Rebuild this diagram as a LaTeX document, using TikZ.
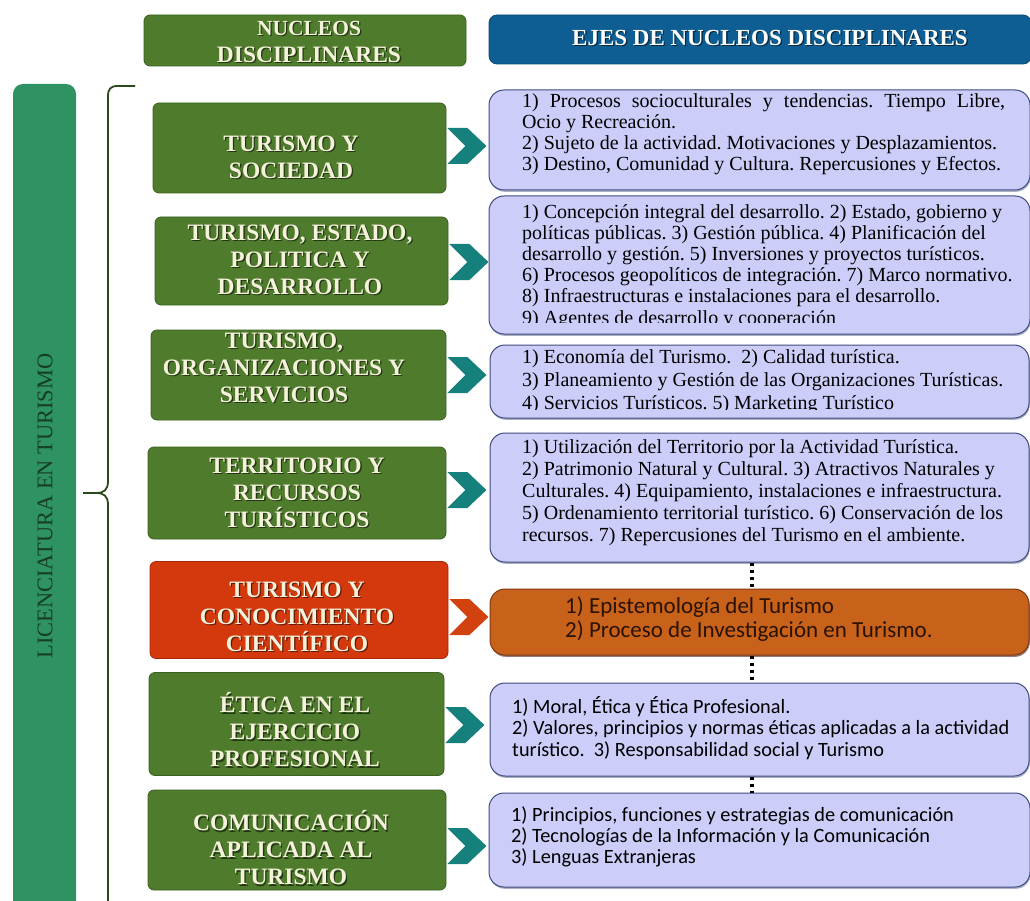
\documentclass[tikz,border=0pt]{standalone}
\usepackage{fontspec}
\setmainfont{Liberation Serif}
\newfontfamily\calfont{Carlito}
\usetikzlibrary{calc,shadows}
\definecolor{nucgreen}{HTML}{4E7B2C}
\definecolor{nucgreenD}{HTML}{3B6020}
\definecolor{hdrblue}{HTML}{0E5E94}
\definecolor{hdrblueD}{HTML}{0A4A76}
\definecolor{barGreen}{HTML}{2E9263}
\definecolor{barText}{HTML}{173D24}
\definecolor{lav}{HTML}{CDCDF9}
\definecolor{lavD}{HTML}{3F4C7E}
\definecolor{orng}{HTML}{C8621A}
\definecolor{orngD}{HTML}{7F3A12}
\definecolor{redbox}{HTML}{D3390D}
\definecolor{redboxD}{HTML}{A82A08}
\definecolor{chevT}{HTML}{15807C}
\definecolor{chevR}{HTML}{D1420F}
\definecolor{cream}{HTML}{F5F2DC}
\definecolor{braceC}{HTML}{2B4A1C}
\definecolor{orText}{HTML}{2A1205}
\tikzset{
 lbox/.style={draw=nucgreenD, fill=nucgreen, line width=0.8pt, rounded corners=6pt, inner sep=0pt},
 lbl/.style={text=cream, font=\bfseries\fontsize{23.5}{27}\selectfont, align=center, inner sep=0pt},
 lblsh/.style={lbl, text=black, opacity=0.55},
 rbox/.style={draw=lavD, fill=lav, line width=1pt, rounded corners=15pt, inner sep=0pt,
   drop shadow={shadow xshift=0.8pt,shadow yshift=-1.8pt,opacity=0.45,fill=lavD}},
 rtxt/.style={anchor=north west, inner sep=0pt, align=left, text=black, font=\fontsize{20}{21}\selectfont},
 stxt/.style={anchor=north west, inner sep=0pt, align=left, text=black, font=\calfont\fontsize{20.3}{21.5}\selectfont},
 dotline/.style={line width=3.5pt, dash pattern=on 3.5pt off 3.5pt},
}
\newcommand\shlabel[3]{%
 \node[lblsh, xshift=1.3pt, yshift=-1.3pt] (#2s) at (#1) {#3};
 \node[lbl] (#2) at (#1) {#3};}
\newcommand\chevron[3]{%
 \fill[#3] ($(#1.east)+(1,#2-18)$) -- ++(20,0) -- ++(19,18) -- ++(-19,18) -- ++(-20,0) -- ++(18,-18) -- cycle;}
\begin{document}
\frenchspacing
\begin{tikzpicture}[x=1pt,y=-1pt]
\clip (0,0) rectangle (1030,901);
\fill[white] (0,0) rectangle (1030,901);

% headers
\node[lbox, minimum width=322pt, minimum height=51pt] (h1) at (305,40.5) {};
\shlabel{309,42}{h1t}{\fontsize{21.5}{25}\selectfont NUCLEOS\\DISCIPLINARES}
\node[draw=hdrblueD, fill=hdrblue, line width=0.8pt, rounded corners=8pt, minimum width=542pt, minimum height=49pt] (h2) at (760,39.5) {};
\node[lbl, text=black, opacity=0.55, font=\bfseries\fontsize{23}{25}\selectfont, xshift=1.3pt, yshift=-1.3pt] (h2s) at (770,38) {EJES DE NUCLEOS DISCIPLINARES};
\node[lbl, text=white, font=\bfseries\fontsize{23}{25}\selectfont] (h2t) at (770,38) {EJES DE NUCLEOS DISCIPLINARES};

% vertical bar
\node[fill=barGreen, rounded corners=10pt, minimum width=63pt, minimum height=840pt, inner sep=0pt] (bar) at (44.5,504) {};
\node[rotate=90, inner sep=0pt, text=barText, font=\fontsize{22.4}{22}\selectfont] (bart) at (45,506) {LICENCIATURA EN TURISMO};

% brace
\draw[braceC, line width=1.8pt, line join=round] (135,86) -- (118,86) .. controls (110,86) and (108,89) .. (108,97)
  -- (108,481) .. controls (108,490) and (104,493) .. (96,493) -- (83,493);
\draw[braceC, line width=1.8pt] (96,493) .. controls (104,493) and (108,496) .. (108,505) -- (108,905);

% left boxes
\node[lbox, minimum width=293pt, minimum height=90pt] (L1) at (299.5,148) {};
\node[lbox, minimum width=293pt, minimum height=88pt] (L2) at (301.5,261) {};
\node[lbox, minimum width=295pt, minimum height=90pt] (L3) at (298.5,375) {};
\node[lbox, minimum width=298pt, minimum height=92pt] (L4) at (297,493) {};
\node[lbox, draw=redboxD, fill=redbox, minimum width=298pt, minimum height=97pt] (L5) at (299,610) {};
\node[lbox, minimum width=295pt, minimum height=103pt] (L6) at (296.5,724) {};
\node[lbox, minimum width=298pt, minimum height=100pt] (L7) at (297,840) {};

\shlabel{291,157}{L1t}{TURISMO Y\\SOCIEDAD}
\shlabel{300,260}{L2t}{TURISMO, ESTADO,\\POLITICA Y\\DESARROLLO}
\shlabel{284,368}{L3t}{TURISMO,\\ORGANIZACIONES Y\\SERVICIOS}
\shlabel{297,493}{L4t}{TERRITORIO Y\\RECURSOS\\TURÍSTICOS}
\shlabel{297,617}{L5t}{TURISMO Y\\CONOCIMIENTO\\CIENTÍFICO}
\shlabel{295,730}{L6t}{ÉTICA EN EL\\EJERCICIO\\PROFESIONAL}
\shlabel{291,848}{L7t}{COMUNICACIÓN\\APLICADA AL\\TURISMO}

% right boxes
\node[rbox, minimum width=541pt, minimum height=100pt] (R1) at (759.5,140) {};
\node[rbox, minimum width=541pt, minimum height=138pt] (R2) at (759.5,265) {};
\node[rbox, minimum width=539pt, minimum height=73pt] (R3) at (759.5,381.5) {};
\node[rbox, minimum width=539pt, minimum height=129pt] (R4) at (759.5,497.5) {};
\node[rbox, draw=orngD, fill=orng, drop shadow={shadow xshift=0.8pt,shadow yshift=-1.8pt,opacity=0.45,fill=orngD}, minimum width=539pt, minimum height=66pt] (R5) at (759.5,622) {};
\node[rbox, minimum width=539pt, minimum height=93pt] (R6) at (759.5,729.5) {};
\node[rbox, minimum width=541pt, minimum height=94pt] (R7) at (759.5,840) {};

% chevrons
\chevron{L1}{-2}{chevT}
\chevron{L2}{1}{chevT}
\chevron{L3}{0}{chevT}
\chevron{L4}{-3}{chevT}
\chevron{L5}{7}{chevR}
\chevron{L6}{1}{chevT}
\chevron{L7}{6}{chevT}

% dotted links
\draw[dotline] ([xshift=-7.5pt]R4.south) -- ([xshift=-7.5pt]R5.north);
\draw[dotline] ([xshift=-7.5pt]R5.south) -- ([xshift=-7.5pt]R6.north);
\draw[dotline] ([xshift=-7.5pt]R6.south) -- ([xshift=-7.5pt]R7.north);

% right texts
\node[rtxt, font=\fontsize{20}{21}\selectfont] (R1t) at (522,93) {\makebox[483pt][s]{1) Procesos socioculturales y tendencias. Tiempo Libre,}\\Ocio y Recreación.\\2) Sujeto de la actividad. Motivaciones y Desplazamientos.\\3) Destino, Comunidad y Cultura. Repercusiones y Efectos.};
\begin{scope}
\clip (489,197) rectangle (1030,322.5);
\node[rtxt, font=\fontsize{20}{21.2}\selectfont] (R2t) at (522,204) {1) Concepción integral del desarrollo. 2) Estado, gobierno y\\políticas públicas. 3) Gestión pública. 4) Planificación del\\desarrollo y gestión. 5) Inversiones y proyectos turísticos.\\6) Procesos geopolíticos de integración. 7) Marco normativo.\\8) Infraestructuras e instalaciones para el desarrollo.\\9) Agentes de desarrollo y cooperación};
\end{scope}
\begin{scope}
\clip (489,346) rectangle (1030,409.5);
\node[rtxt, font=\fontsize{20}{23}\selectfont] (R3t) at (522,349) {1) Economía del Turismo.\ \ 2) Calidad turística.\\3) Planeamiento y Gestión de las Organizaciones Turísticas.\\4) Servicios Turísticos. 5) Marketing Turístico};
\end{scope}
\node[rtxt, font=\fontsize{20}{22.2}\selectfont] (R4t) at (522,439) {1) Utilización del Territorio por la Actividad Turística.\\2) Patrimonio Natural y Cultural. 3) Atractivos Naturales y\\Culturales. 4) Equipamiento, instalaciones e infraestructura.\\5) Ordenamiento territorial turístico. 6) Conservación de los\\recursos. 7) Repercusiones del Turismo en el ambiente.};
\node[stxt, text=orText, font=\calfont\fontsize{23}{24}\selectfont] (R5t) at (565,596) {1) Epistemología del Turismo\\2) Proceso de Investigación en Turismo.};
\node[stxt] (R6t) at (512,696) {1) Moral, Ética y Ética Profesional.\\2) Valores, principios y normas éticas aplicadas a la actividad\\turístico.\ \ 3) Responsabilidad social y Turismo};
\node[stxt, font=\calfont\fontsize{20.3}{21}\selectfont] (R7t) at (511,806) {1) Principios, funciones y estrategias de comunicación\\2) Tecnologías de la Información y la Comunicación\\3) Lenguas Extranjeras};
\end{tikzpicture}
\end{document}
